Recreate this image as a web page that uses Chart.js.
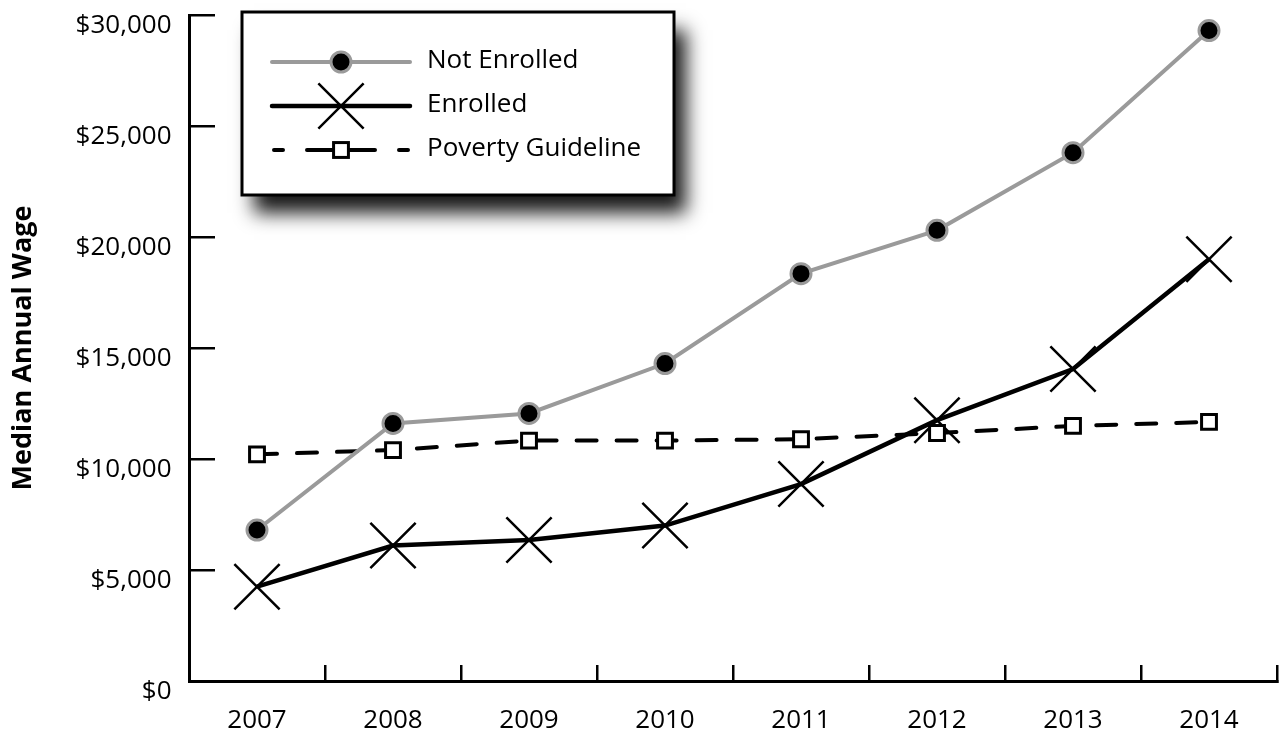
<!DOCTYPE html>
<html>
<head>
<meta charset="utf-8">
<script src="https://cdn.jsdelivr.net/npm/chart.js@4.4.1/dist/chart.umd.min.js"></script>
<style>
  html, body { margin: 0; padding: 0; background: #ffffff; }
  #wrap { width: 1279px; height: 736px; position: relative; }
  canvas { display: block; }
</style>
</head>
<body>
<div id="wrap"><canvas id="chart" width="1279" height="736"></canvas></div>
<script>
// ---- data ----
const years = ['2007', '2008', '2009', '2010', '2011', '2012', '2013', '2014'];
const notEnrolled = [6800, 11600, 12050, 14300, 18350, 20300, 23800, 29300];
const enrolled = [4250, 6100, 6350, 7000, 8870, 11750, 14050, 19000];
const povertyGuideline = [10210, 10400, 10830, 10830, 10890, 11170, 11490, 11670];
const yTickLabels = ['$0', '$5,000', '$10,000', '$15,000', '$20,000', '$25,000', '$30,000'];
const seriesNames = ['Not Enrolled', 'Enrolled', 'Poverty Guideline'];
const yAxisTitle = 'Median Annual Wage';

const FONT = "'Open Sans', 'Noto Sans', sans-serif";
const GRAY = '#9a9a9a';

// ---- custom boxed legend with drop shadow ----
const legendBox = {
  id: 'legendBox',
  afterDraw(chart) {
    const ctx = chart.ctx;
    const bx = 242, by = 12, bw = 432, bh = 183;
    ctx.save();
    ctx.shadowColor = 'rgba(0,0,0,0.9)';
    ctx.shadowBlur = 18;
    ctx.shadowOffsetX = 12;
    ctx.shadowOffsetY = 18;
    ctx.fillStyle = '#ffffff';
    ctx.fillRect(bx, by, bw, bh);
    ctx.restore();

    ctx.save();
    ctx.lineWidth = 3;
    ctx.strokeStyle = '#000';
    ctx.strokeRect(bx, by, bw, bh);

    const x0 = 272, x1 = 410, mx = 341;
    const rows = [62, 106, 150];

    // Not Enrolled
    ctx.lineCap = 'round';
    ctx.strokeStyle = GRAY; ctx.lineWidth = 4;
    ctx.beginPath(); ctx.moveTo(x0, rows[0]); ctx.lineTo(x1, rows[0]); ctx.stroke();
    ctx.beginPath(); ctx.arc(mx, rows[0], 10, 0, Math.PI * 2);
    ctx.fillStyle = '#000'; ctx.fill();
    ctx.lineWidth = 3; ctx.strokeStyle = GRAY; ctx.stroke();

    // Enrolled
    ctx.strokeStyle = '#000'; ctx.lineWidth = 4.5;
    ctx.beginPath(); ctx.moveTo(x0, rows[1]); ctx.lineTo(x1, rows[1]); ctx.stroke();
    ctx.lineWidth = 2.5; ctx.lineCap = 'butt';
    const d = 32 * Math.SQRT1_2;
    ctx.beginPath();
    ctx.moveTo(mx - d, rows[1] - d); ctx.lineTo(mx + d, rows[1] + d);
    ctx.moveTo(mx - d, rows[1] + d); ctx.lineTo(mx + d, rows[1] - d);
    ctx.stroke();

    // Poverty Guideline
    ctx.lineCap = 'round';
    ctx.lineWidth = 4;
    ctx.setLineDash([9, 24, 68, 24, 9]);
    ctx.beginPath(); ctx.moveTo(x0 + 2, rows[2]); ctx.lineTo(x1 - 2, rows[2]); ctx.stroke();
    ctx.setLineDash([]);
    const s = 10.5 * Math.SQRT1_2;
    ctx.fillStyle = '#fff';
    ctx.fillRect(mx - s, rows[2] - s, 2 * s, 2 * s);
    ctx.lineWidth = 3; ctx.lineCap = 'butt';
    ctx.strokeRect(mx - s, rows[2] - s, 2 * s, 2 * s);

    // texts
    ctx.fillStyle = '#000';
    ctx.font = '26px ' + FONT;
    ctx.textAlign = 'left';
    ctx.textBaseline = 'middle';
    seriesNames.forEach((n, i) => ctx.fillText(n, 427, rows[i] - 1));
    ctx.restore();
  }
};

new Chart(document.getElementById('chart'), {
  type: 'line',
  data: {
    labels: years,
    datasets: [
      {
        label: seriesNames[0],
        data: notEnrolled,
        borderColor: GRAY,
        borderWidth: 4,
        pointStyle: 'circle',
        pointRadius: 10,
        pointBackgroundColor: '#000',
        pointBorderColor: GRAY,
        pointBorderWidth: 3,
        tension: 0,
        order: 0
      },
      {
        label: seriesNames[2],
        data: povertyGuideline,
        borderColor: '#000',
        borderWidth: 4,
        borderDash: [20, 20],
        borderCapStyle: 'round',
        pointStyle: 'rect',
        pointRadius: 10.5,
        pointBackgroundColor: '#fff',
        pointBorderColor: '#000',
        pointBorderWidth: 3,
        tension: 0,
        order: 1
      },
      {
        label: seriesNames[1],
        data: enrolled,
        borderColor: '#000',
        borderWidth: 4.5,
        pointStyle: 'crossRot',
        pointRadius: 32,
        pointBorderColor: '#000',
        pointBorderWidth: 2.5,
        tension: 0,
        order: 2
      }
    ]
  },
  options: {
    responsive: false,
    animation: false,
    devicePixelRatio: 1,
    events: [],
    clip: false,
    layout: { autoPadding: false, padding: { left: 0, top: 15, right: 2, bottom: 0 } },
    plugins: {
      legend: { display: false },
      tooltip: { enabled: false }
    },
    scales: {
      x: {
        type: 'category',
        offset: true,
        grid: {
          offset: true,
          drawOnChartArea: false,
          drawTicks: true,
          tickLength: -16,
          lineWidth: 2.5,
          color: '#000'
        },
        border: { display: true, width: 3, color: '#000' },
        ticks: {
          color: '#000',
          font: { family: FONT, size: 26 },
          padding: 40,
          maxRotation: 0,
          autoSkip: false
        },
        afterFit(s) { s.height = 55; s.paddingLeft = 0; s.paddingRight = 0; }
      },
      y: {
        min: 0,
        max: 30000,
        grid: {
          drawOnChartArea: false,
          drawTicks: true,
          tickLength: -26,
          lineWidth: 2.5,
          color: '#000'
        },
        border: { display: true, width: 3, color: '#000' },
        ticks: {
          stepSize: 5000,
          color: '#000',
          font: { family: FONT, size: 26 },
          padding: 43.5,
          labelOffset: 11,
          callback: (v, i) => yTickLabels[i]
        },
        title: {
          display: true,
          text: yAxisTitle,
          color: '#000',
          font: { family: FONT, size: 27, weight: 'bold' },
          padding: { top: 7, bottom: 0 }
        },
        afterFit(s) { s.width = 189; s.paddingTop = 0; s.paddingBottom = 0; }
      }
    }
  },
  plugins: [legendBox]
});
</script>
</body>
</html>
